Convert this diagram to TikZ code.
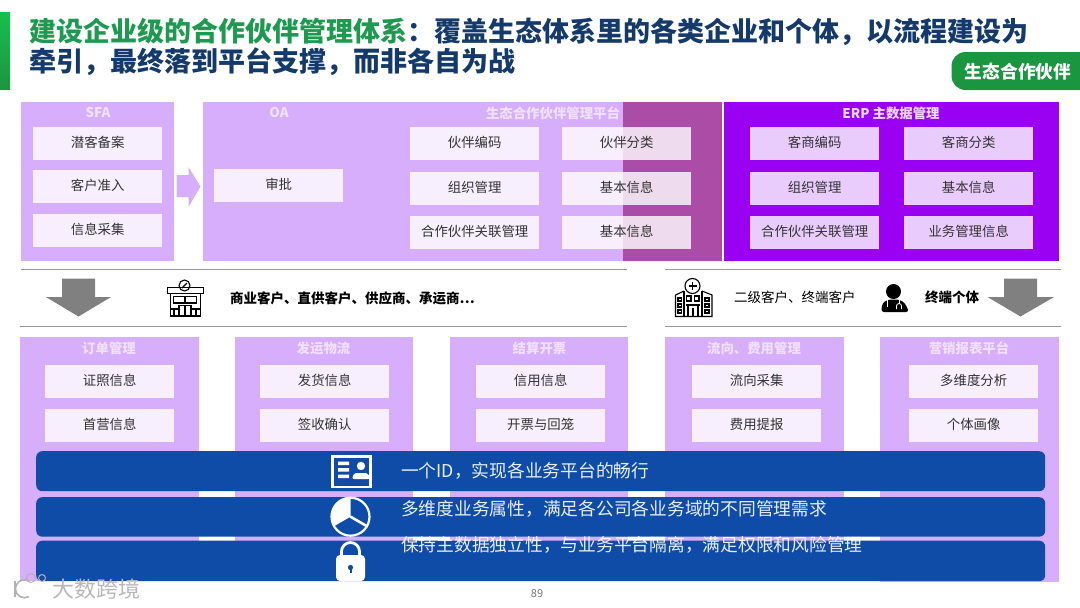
\documentclass[tikz,border=0pt]{standalone}
\usepackage{fontspec}
\usepackage{xcolor}
\usepackage{tikz}
\usetikzlibrary{positioning}
\setmainfont{Noto Sans CJK SC}
\definecolor{panelpurple}{HTML}{D7AEFB}
\definecolor{erppurple}{HTML}{9A00F2}
\definecolor{overlaypurple}{HTML}{AB4DA6}
\definecolor{barblue}{HTML}{0F4CA8}
\definecolor{titlegreen}{HTML}{1D9A50}
\definecolor{titlenavy}{HTML}{143A6B}
\definecolor{taggreen}{HTML}{1A9641}
\definecolor{edgegreen}{HTML}{17BF4F}
\definecolor{itemtext}{HTML}{333333}
\tikzset{
  panel/.style={anchor=north west,inner sep=0pt,fill=panelpurple},
  paneltitle/.style={font=\fontsize{13.4}{14}\selectfont\bfseries,text=white,text opacity=.62},
  itembox/.style={inner sep=0pt,minimum width=129pt,minimum height=33pt,fill=white,fill opacity=.8,text opacity=1,text=itemtext,text height=8pt,text depth=0pt,font=\fontsize{13.4}{14}\selectfont},
  bluebar/.style={anchor=north west,inner sep=0pt,fill=barblue,rounded corners=6pt,minimum width=1009pt},
  bartext/.style={anchor=west,inner sep=0pt,text=white,text opacity=.9,font=\fontsize{17.75}{18}\selectfont},
  custtext/.style={anchor=west,inner sep=0pt,text=black,font=\fontsize{13.5}{14}\selectfont\bfseries},
  sepline/.style={draw=black!40,line width=.8pt},
  icon/.style={draw=black,line width=1.1pt},
}
\begin{document}
\begin{tikzpicture}[x=1pt,y=-1pt]
  \useasboundingbox (0,0) rectangle (1080,608);
  % header
  \fill[top color=edgegreen,bottom color=taggreen] (0,12) rectangle (10,89);
  \node[anchor=west,inner sep=0pt,font=\fontsize{27}{27}\selectfont\bfseries] (titlea) at (29,32) {\textcolor{titlegreen}{建设企业级的合作伙伴管理体系}\textcolor{titlenavy}{：覆盖生态体系里的各类企业和个体，以流程建设为}};
  \node[anchor=west,inner sep=0pt,font=\fontsize{27}{27}\selectfont\bfseries,text=titlenavy] (titleb) at (29,62) {牵引，最终落到平台支撑，而非各自为战};
  \fill[taggreen] (1080,52) [rounded corners=14pt] -- (951.5,52) -- (951.5,90) [sharp corners] -- (1080,90) -- cycle;
  \node[inner sep=0pt,text=white,font=\fontsize{17.7}{18}\selectfont\bfseries] (tag) at (1018,72) {生态合作伙伴};

  % upper platforms
  \node[panel,minimum width=153pt,minimum height=159.5pt] (sfa) at (21,101.5) {};
  \node[paneltitle] (sfatitle) at (98,113) {SFA};
  \node[itembox,anchor=north west] (sfaa) at (33,126.5) {潜客备案};
  \node[itembox,below=10pt of sfaa] (sfab) {客户准入};
  \node[itembox,below=10pt of sfab] (sfac) {信息采集};
  \fill[panelpurple] (176.5,175) -- (188.5,175) -- (188.5,167) -- (200.5,186.5) -- (188.5,207) -- (188.5,197) -- (176.5,197) -- cycle;

  \node[panel,minimum width=518.5pt,minimum height=159.5pt] (oa) at (203,101.5) {};
  \fill[overlaypurple] (622.5,101.5) rectangle (721.5,261);
  \node[paneltitle] (oatitle) at (279,112.5) {OA};
  \node[itembox,anchor=north west] (oaa) at (214,169) {审批};
  \node[paneltitle] (parttitle) at (553,113) {生态合作伙伴管理平台};
  \node[itembox,anchor=north west] (parta) at (410,126.5) {伙伴编码};
  \node[itembox,below=12pt of parta] (partb) {组织管理};
  \node[itembox,below=10pt of partb] (partc) {合作伙伴关联管理};
  \node[itembox,anchor=north west] (partd) at (562,126.5) {伙伴分类};
  \node[itembox,below=12pt of partd] (parte) {基本信息};
  \node[itembox,below=10pt of parte] (partf) {基本信息};

  \node[panel,fill=erppurple,minimum width=335pt,minimum height=159.5pt] (erp) at (724,101.5) {};
  \node[paneltitle,text opacity=.85] (erptitle) at (891,113) {ERP 主数据管理};
  \node[itembox,anchor=north west] (erpa) at (750,126.5) {客商编码};
  \node[itembox,below=12pt of erpa] (erpb) {组织管理};
  \node[itembox,below=10pt of erpb] (erpc) {合作伙伴关联管理};
  \node[itembox,anchor=north west] (erpd) at (904,126.5) {客商分类};
  \node[itembox,below=12pt of erpd] (erpe) {基本信息};
  \node[itembox,below=10pt of erpe] (erpf) {业务管理信息};

  % customer strip
  \draw[sepline] (21,269.5) -- (627,269.5);
  \draw[sepline] (665,269.5) -- (1061,269.5);
  \draw[sepline] (20,326.5) -- (627,326.5);
  \draw[sepline] (665,326.5) -- (1061,326.5);
  \fill[black!50] (62,278.5) -- (95,278.5) -- (95,297) -- (111,297) -- (78.5,316.5) -- (46,297) -- (62,297) -- cycle;
  \fill[black!50] (1004,278.5) -- (1037,278.5) -- (1037,297) -- (1054,297) -- (1020.5,316.5) -- (987.5,297) -- (1004,297) -- cycle;

  % store icon
  \draw[icon] (184.5,285.5) circle (5.5);
  \draw[icon] (182,288) -- (187,283);
  \draw[icon] (167.5,287.5) rectangle (203.5,293.5);
  \draw[icon] (170.5,293.5) -- (170.5,316) -- (200.5,316) -- (200.5,293.5);
  \draw[icon] (173.5,296.5) rectangle (196.5,303);
  \draw[icon] (185,296.5) -- (185,303);
  \draw[icon] (179,316) -- (179,305.5) -- (191,305.5) -- (191,316) (185,305.5) -- (185,316);
  \draw[icon] (170.5,309) -- (179,309) (174,309) -- (174,316) (191,309) -- (200.5,309) (196,309) -- (196,316);
  \node[custtext] (custa) at (230,298) {商业客户、直供客户、供应商、承运商…};

  % hospital icon
  \draw[icon] (692.5,286) circle (7.5);
  \draw[icon] (692.5,282) -- (692.5,290) (688.5,286) -- (696.5,286);
  \draw[icon] (684,291) -- (684,316.5) (702,291) -- (702,316.5);
  \draw[icon] (684,291) -- (675.5,295) -- (675.5,316.5) -- (712,316.5) -- (712,295) -- (702,291);
  \draw[icon] (686.5,296) rectangle (691,301) (694.5,296) rectangle (699,301);
  \draw[icon] (685.5,305) -- (700,305) (688,305) -- (688,316.5) (698,305) -- (698,316.5) (693,308) -- (693,316.5);
  \draw[icon] (678,298) rectangle (681.5,301) (678,304) rectangle (681.5,307) (678,310) rectangle (681.5,313);
  \draw[icon] (705,298) rectangle (709,301) (705,304) rectangle (709,307) (705,310) rectangle (709,313);
  \node[custtext,font=\fontsize{13.5}{14}\selectfont] (custb) at (734,297) {二级客户、终端客户};

  % doctor icon
  \fill[black] (893.5,291.5) circle (7.5);
  \fill[black,rounded corners=3pt] (881,312) -- (882.5,303) -- (888,299.5) -- (899,299.5) -- (905,303) -- (909,312) -- cycle;
  \draw[white,line width=.8pt] (887,300) -- (887,307) (899,300) -- (899,304);
  \draw[white,line width=.8pt] (896.5,309) -- (896.5,306) arc (180:360:2.5) -- (901.5,309);
  \node[custtext] (custc) at (925,297) {终端个体};

  % lower platforms
  \node[panel,minimum width=179pt,minimum height=244pt] (order) at (20,337) {};
  \node[paneltitle] (ordertitle) at (109,348.5) {订单管理};
  \node[itembox,anchor=north west] (ordera) at (45,365) {证照信息};
  \node[itembox,below=10.5pt of ordera] (orderb) {首营信息};

  \node[panel,minimum width=178pt,minimum height=244pt] (ship) at (235,337) {};
  \node[paneltitle] (shiptitle) at (323.5,348.5) {发运物流};
  \node[itembox,anchor=north west] (shipa) at (260,365) {发货信息};
  \node[itembox,below=10.5pt of shipa] (shipb) {签收确认};

  \node[panel,minimum width=178pt,minimum height=244pt] (bill) at (450,337) {};
  \node[paneltitle] (billtitle) at (539.5,348.5) {结算开票};
  \node[itembox,anchor=north west] (billa) at (476,365) {信用信息};
  \node[itembox,below=10.5pt of billa] (billb) {开票与回笼};

  \node[panel,minimum width=179pt,minimum height=244pt] (flow) at (665,337) {};
  \node[paneltitle] (flowtitle) at (754,348.5) {流向、费用管理};
  \node[itembox,anchor=north west] (flowa) at (692,365) {流向采集};
  \node[itembox,below=10.5pt of flowa] (flowb) {费用提报};

  \node[panel,minimum width=179pt,minimum height=245pt] (report) at (880,337) {};
  \node[paneltitle] (reporttitle) at (969,348.5) {营销报表平台};
  \node[itembox,anchor=north west] (reporta) at (909,365) {多维度分析};
  \node[itembox,below=10.5pt of reporta] (reportb) {个体画像};

  % blue bars
  \node[bluebar,minimum height=40pt] (bara) at (36,451) {};
  \node[bluebar,minimum height=39.5pt] (barb) at (36,497) {};
  \node[bluebar,minimum height=40.5pt] (barc) at (36,540.5) {};
  \node[bartext] (bartexta) at (401,471) {一个ID，实现各业务平台的畅行};
  \node[bartext] (bartextb) at (401,508.5) {多维度业务属性，满足各公司各业务域的不同管理需求};
  \node[bartext] (bartextc) at (401,545) {保持主数据独立性，与业务平台隔离，满足权限和风险管理};

  % id card icon
  \draw[white,line width=2.5pt] (332.5,456.5) rectangle (370.5,487);
  \fill[white] (338,461.5) rectangle (349,465) (338,468) rectangle (349,471.5) (338,474.5) rectangle (349,478);
  \fill[white] (361,466) circle (4.2);
  \fill[white,rounded corners=2pt] (352,479) -- (354,473) -- (368,473) -- (370,479) -- cycle;

  % pie icon
  \draw[white,line width=2.2pt] (350.5,516.7) circle (19);
  \fill[white] (350.5,516.7) -- (350.5,497.7) arc (-90:-210:19) -- cycle;
  \draw[white,line width=2.6pt,line cap=round] (350.5,516.7) -- (367,526.2);

  % lock icon
  \draw[white,line width=2.8pt] (341.5,556) -- (341.5,551.5) arc (180:360:9) -- (359.5,556);
  \fill[white,rounded corners=4pt] (336,555) rectangle (365,581);
  \fill[barblue] (350.5,567.5) circle (2.6);
  \fill[barblue] (349.5,568) rectangle (351.5,573);

  % footer
  \node[inner sep=0pt,text=black!55,font=\fontsize{11}{11}\selectfont] (pageno) at (537,594) {89};
  \draw[black!30,line width=1.6pt] (15,581) -- (15,597);
  \draw[black!30,line width=1.6pt] (29,581) arc (-60:-300:9);
  \draw[black!30,line width=1pt] (31,578) circle (4.5) (42,578) circle (3.5);
  \node[anchor=west,inner sep=0pt,text=black!28,font=\fontsize{22}{22}\selectfont] (mark) at (52,589) {大数跨境};
\end{tikzpicture}
\end{document}
